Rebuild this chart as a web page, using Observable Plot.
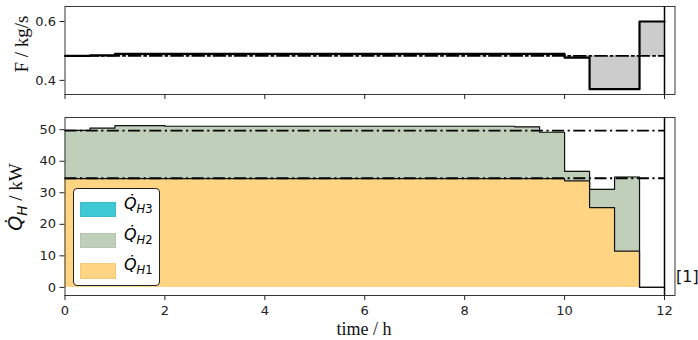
<!DOCTYPE html>
<html>
<head>
<meta charset="utf-8">
<script src="https://cdn.jsdelivr.net/npm/d3@7"></script>
<script src="https://cdn.jsdelivr.net/npm/@observablehq/plot@0.6"></script>
<style>
  html, body { margin: 0; padding: 0; background: #fff; }
  #wrap { position: relative; width: 698px; height: 340px; overflow: hidden; font-family: "DejaVu Sans", sans-serif; }
  #top, #bottom { position: absolute; left: 0; }
  #top { top: 0; }
  #bottom { top: 100px; }
  .lab { position: absolute; white-space: nowrap; color: #111; line-height: 1; }
  .rot { transform: translate(-50%, -50%) rotate(-90deg); }
  .serif { font-family: "Liberation Serif", "DejaVu Serif", serif; }
  #legend { position: absolute; left: 73px; top: 188px; width: 87px; height: 98px; border: 1.2px solid #222; border-radius: 4px; background: #fff; box-sizing: border-box; }
  .sw { position: absolute; left: 6px; width: 34px; height: 13.5px; }
  .lt { position: absolute; left: 50px; font-size: 16px; line-height: 1; }
  .q { font-family: "DejaVu Sans", sans-serif; font-style: italic; }
  .q sub { font-size: 72%; vertical-align: -0.35em; font-style: normal; }
  .q sub i { font-style: italic; }
</style>
</head>
<body>
<div id="wrap">
  <div id="top"></div>
  <div id="bottom"></div>
  <div class="lab rot serif" style="left:21px; top:44px; font-size:19px;">F / kg/s</div>
  <div class="lab rot" style="left:18px; top:197px; font-size:19px;"><span class="q">Q&#x307;<sub><i>H</i></sub></span><span class="serif"> / kW</span></div>
  <div class="lab serif" style="left:364px; top:329px; transform: translate(-50%,-50%); font-size:18px;">time / h</div>
  <div class="lab" style="left:676px; top:277px; transform: translateY(-50%); font-size:16px;">[1]</div>
  <div id="legend"></div>
</div>
<script>
// ---- data ----
const fTimes = [0, 0.5, 1, 10, 10.5, 11.5, 12];
const fValues = [0.483, 0.485, 0.490, 0.477, 0.370, 0.600, 0.600];
const fRef = 0.483;

const qTimes = [0, 0.5, 1, 2, 9, 9.5, 10, 10.5, 11, 11.5, 12];
const qH1 = [34.5, 34.5, 34.5, 34.5, 34.5, 34.5, 33.8, 25.3, 11.5, 0, 0];
const qH2 = [15.3, 16.0, 16.8, 16.6, 16.4, 14.7, 3.0, 5.8, 23.5, 0, 0];
const qH3 = [0, 0, 0, 0, 0, 0, 0, 0, 0, 0, 0];
const qRefs = [49.7, 34.6];

const xTicks = [0, 2, 4, 6, 8, 10, 12];
const seriesNames = ["H3", "H2", "H1"];
const seriesColors = {H1: "#ffd583", H2: "#bfcfb9", H3: "#3fc8d5"};

// ---- tables ----
const fData = fTimes.map((t, i) => ({t, f: fValues[i], ref: fRef}));
const qData = qTimes.map((t, i) => {
  const a = qH1[i], b = a + qH2[i], c = b + qH3[i];
  return {t, h1: a, h2: b, h3: c};
});
const dashdot = "12,3.5,2.2,3.5";
const xDomain = [0, 12.21];

const common = {
  width: 698,
  marginLeft: 64.5,
  marginRight: 23.5,
  style: {fontFamily: "DejaVu Sans, sans-serif", fontSize: "13px", color: "#222", background: "transparent"}
};

const topPlot = Plot.plot({
  ...common,
  height: 100,
  marginTop: 6,
  marginBottom: 6,
  x: {domain: xDomain},
  y: {domain: [0.352, 0.651]},
  marks: [
    Plot.areaY(fData, {x: "t", y1: "ref", y2: "f", curve: "step-after", fill: "#cccccc"}),
    Plot.lineY(fData, {x: "t", y: "ref", curve: "step-after", stroke: "black", strokeWidth: 1.8, strokeDasharray: dashdot}),
    Plot.lineY(fData, {x: "t", y: "f", curve: "step-after", stroke: "black", strokeWidth: 2.2}),
    Plot.ruleX([12], {stroke: "black", strokeWidth: 1.5}),
    Plot.axisY({ticks: [0.4, 0.6], tickFormat: d3.format(".1f"), tickSize: 5, tickPadding: 4, label: null}),
    Plot.axisX({ticks: xTicks, tickFormat: () => "", tickSize: 5, label: null}),
    Plot.frame({stroke: "#222", strokeWidth: 0.9})
  ]
});
document.getElementById("top").append(topPlot);

const bottomPlot = Plot.plot({
  ...common,
  height: 240,
  marginTop: 17,
  marginBottom: 45,
  x: {domain: xDomain},
  y: {domain: [-2.57, 53.87]},
  marks: [
    Plot.areaY(qData, {x: "t", y1: 0, y2: "h1", curve: "step-after", fill: seriesColors.H1}),
    Plot.areaY(qData, {x: "t", y1: "h1", y2: "h2", curve: "step-after", fill: seriesColors.H2}),
    Plot.areaY(qData, {x: "t", y1: "h2", y2: "h3", curve: "step-after", fill: seriesColors.H3}),
    Plot.lineY(qData, {x: "t", y: "h2", curve: "step-after", stroke: "#111", strokeWidth: 1.2}),
    Plot.lineY(qData, {x: "t", y: "h1", curve: "step-after", stroke: "#111", strokeWidth: 1.2}),
    Plot.ruleY(qRefs, {x1: 0, x2: 12, stroke: "black", strokeWidth: 1.8, strokeDasharray: dashdot}),
    Plot.ruleX([12], {stroke: "black", strokeWidth: 1.5}),
    Plot.axisY({ticks: [0, 10, 20, 30, 40, 50], tickSize: 5, tickPadding: 4, label: null}),
    Plot.axisX({ticks: xTicks, tickSize: 5, tickPadding: 5, label: null}),
    Plot.frame({stroke: "#222", strokeWidth: 0.9})
  ]
});
document.getElementById("bottom").append(bottomPlot);

// ---- legend ----
const legend = document.getElementById("legend");
const tops = [12.5, 43.5, 74];
seriesNames.forEach((s, i) => {
  const sw = document.createElement("div");
  sw.className = "sw";
  sw.style.top = tops[i] + "px";
  sw.style.background = seriesColors[s];
  sw.style.border = "0.8px solid " + d3.color(seriesColors[s]).darker(0.15);
  legend.append(sw);
  const lt = document.createElement("div");
  lt.className = "lt";
  lt.style.top = (tops[i] - 6) + "px";
  lt.innerHTML = '<span class="q">Q&#x307;<sub><i>H</i>' + s.slice(1) + '</sub></span>';
  legend.append(lt);
});
</script>
</body>
</html>
